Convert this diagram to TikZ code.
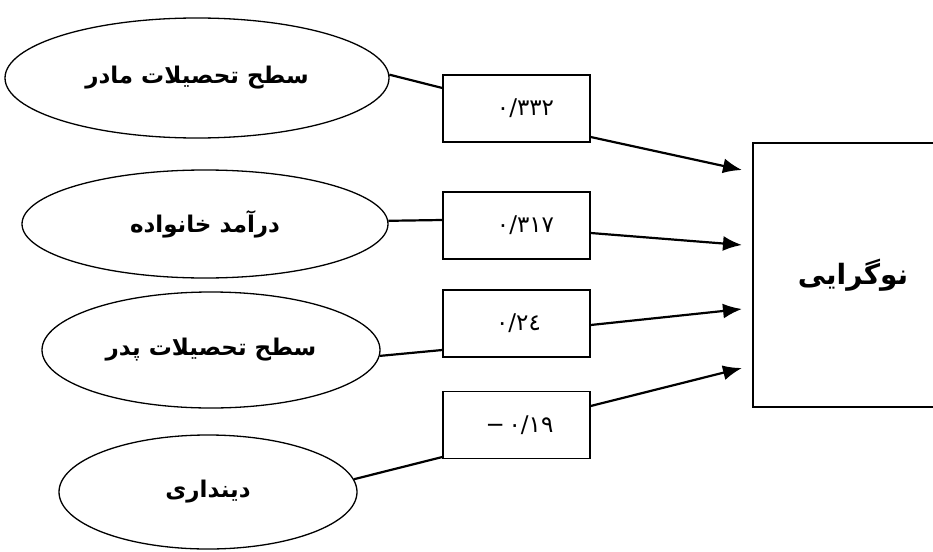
\documentclass[tikz,border=0pt]{standalone}
\usepackage{fontspec}
\usetikzlibrary{shapes.geometric,arrows.meta}
\newfontfamily\fa[Script=Arabic]{DejaVu Sans}
\TeXXeTstate=1
\begin{document}
\begin{tikzpicture}[x=1pt,y=-1pt,
  ell/.style={draw,ellipse,line width=1.3pt,inner sep=0pt,font=\fa\bfseries\fontsize{23}{27}\selectfont},
  numbox/.style={draw,rectangle,line width=1.4pt,minimum width=147pt,minimum height=67pt,inner sep=0pt,font=\fa\fontsize{23}{27}\selectfont},
  link/.style={line width=2.2pt},
  arr/.style={line width=2.2pt,-{Latex[length=19pt,width=15pt]}}]
\useasboundingbox (0,0) rectangle (933,551);
\clip (0,0) rectangle (933,551);
% ellipses
\node[ell,minimum width=384pt,minimum height=120pt] (e1) at (197,78) {\beginR سطح تحصیلات مادر\endR};
\node[ell,minimum width=366pt,minimum height=108pt] (e2) at (205,224) {\beginR درآمد خانواده\endR};
\node[ell,minimum width=338pt,minimum height=116pt] (e3) at (211,350) {\beginR سطح تحصیلات پدر\endR};
\node[ell,minimum width=298pt,minimum height=114pt] (e4) at (208,492) {\beginR دینداری\endR};
% coefficient boxes
\node[numbox] (b1) at (516.5,108.5) {\hspace{18pt}٠/٣٣٢};
\node[numbox] (b2) at (516.5,225.5) {\hspace{18pt}٠/٣١٧};
\node[numbox] (b3) at (516.5,323.5) {\hspace{4pt}٠/٢٤};
\node[numbox] (b4) at (516.5,425) {\hspace{6pt}\mbox{\fontspec{DejaVu Sans}−}\,\mbox{٠/١٩}};
% target
\node[draw,rectangle,line width=1.4pt,minimum width=192pt,minimum height=264pt,inner sep=0pt,
  font=\fa\bfseries\fontsize{28}{32}\selectfont] (t) at (849,275) {\hspace{8pt}\beginR نوگرایی\endR};
\coordinate (t1) at (742,170);
\coordinate (t2) at (742,245);
\coordinate (t3) at (742,309);
\coordinate (t4) at (742,368);
% connectors
\draw[link] (e1.1.5) -- ([yshift=20.5pt]b1.west);
\draw[link] (e2.1.9) -- ([yshift=5.5pt]b2.west);
\draw[link] (e3.-2.4) -- ([yshift=-26.5pt]b3.west);
\draw[link] (e4.5.4) -- ([yshift=-32pt]b4.west);
\draw[arr] ([yshift=-28.5pt]b1.east) -- (t1);
\draw[arr] ([yshift=-7.5pt]b2.east) -- (t2);
\draw[arr] ([yshift=-1.5pt]b3.east) -- (t3);
\draw[arr] ([yshift=19pt]b4.east) -- (t4);
\end{tikzpicture}
\end{document}
